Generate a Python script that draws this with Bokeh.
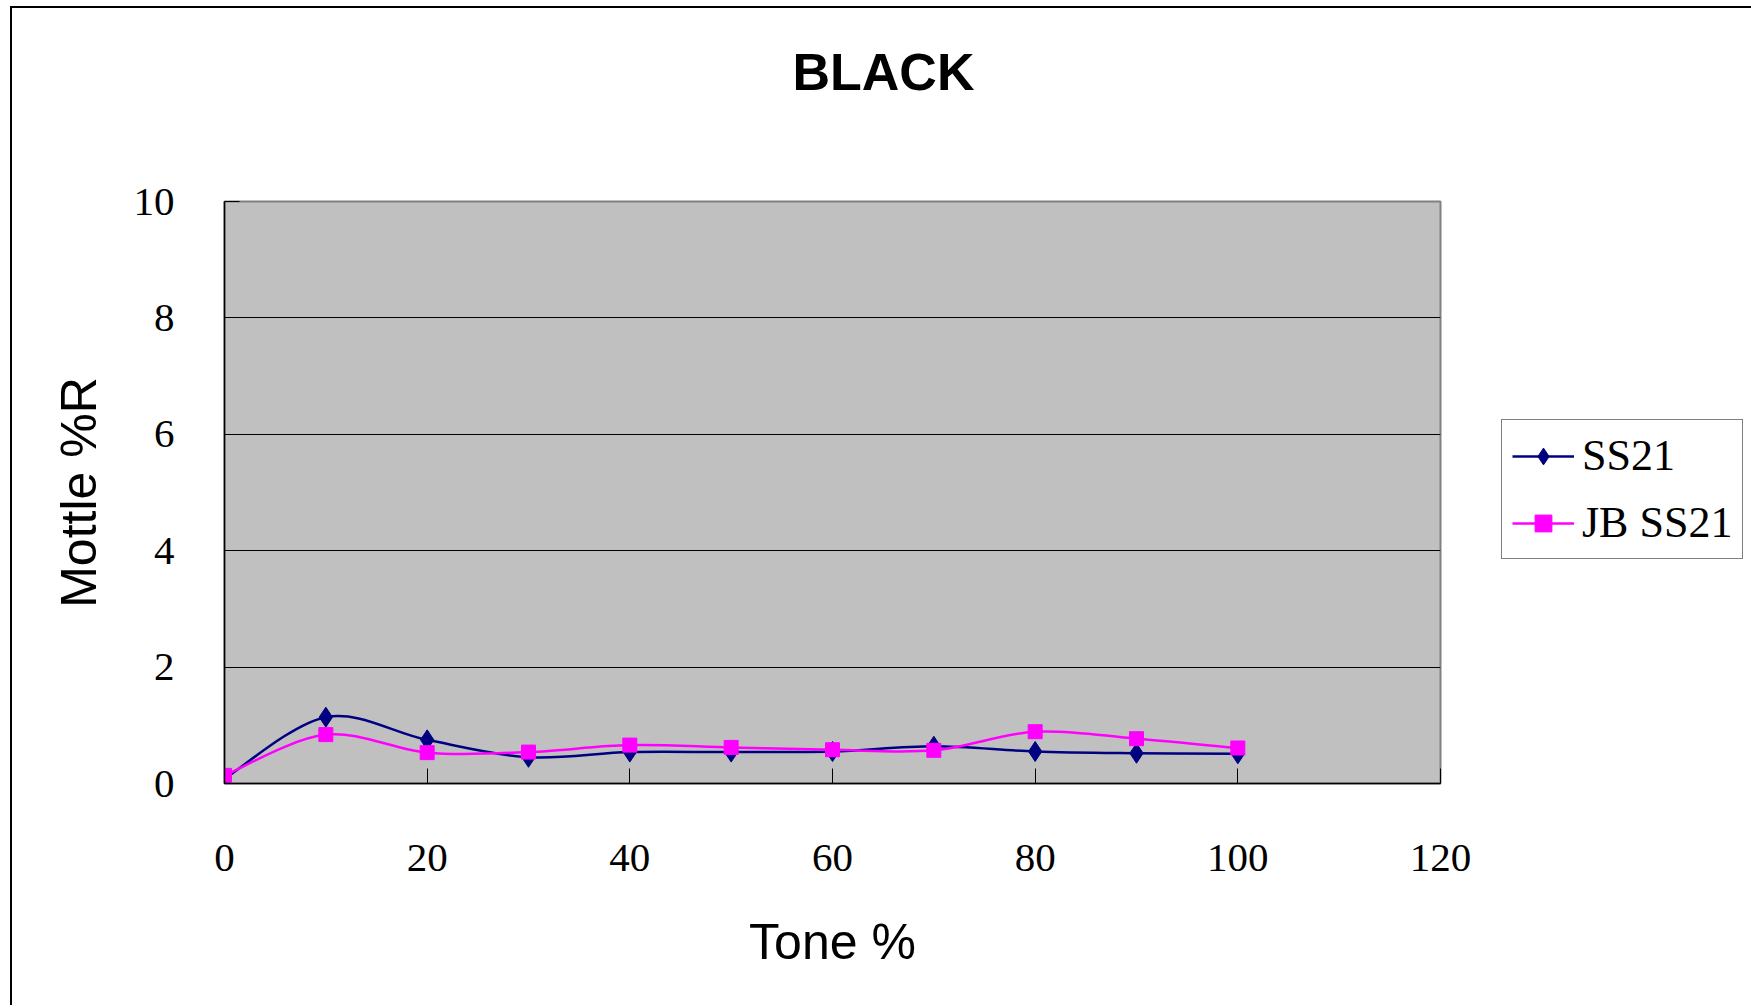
from bokeh.plotting import figure
from bokeh.models import Legend, LegendItem, FixedTicker, Range1d, Title
from bokeh.embed import file_html
from bokeh.resources import INLINE

# ---- data ----
tone = [0, 10, 20, 30, 40, 50, 60, 70, 80, 90, 100]
ss21 = [0.08, 1.14, 0.75, 0.45, 0.54, 0.54, 0.55, 0.64, 0.55, 0.52, 0.51]
jb_ss21 = [0.14, 0.84, 0.53, 0.54, 0.66, 0.62, 0.58, 0.57, 0.89, 0.77, 0.61]
x_ticks = [0, 20, 40, 60, 80, 100, 120]
y_ticks = [0, 2, 4, 6, 8, 10]
series_names = ["SS21", "JB SS21"]
title_text = "BLACK"
x_title = "Tone %"
y_title = "Mottle %R"


def smooth_segments(xs, ys):
    """Catmull-Rom style bezier control points (Excel 'smoothed line')."""
    n = len(xs)
    d = dict(x0=[], y0=[], x1=[], y1=[], cx0=[], cy0=[], cx1=[], cy1=[])
    for i in range(n - 1):
        a = i - 1 if i > 0 else i
        b = i + 2 if i + 2 < n else i + 1
        d["x0"].append(xs[i]); d["y0"].append(ys[i])
        d["x1"].append(xs[i + 1]); d["y1"].append(ys[i + 1])
        d["cx0"].append(xs[i] + (xs[i + 1] - xs[a]) / 6.0)
        d["cy0"].append(ys[i] + (ys[i + 1] - ys[a]) / 6.0)
        d["cx1"].append(xs[i + 1] - (xs[b] - xs[i]) / 6.0)
        d["cy1"].append(ys[i + 1] - (ys[b] - ys[i]) / 6.0)
    return d


p = figure(
    frame_width=1216, frame_height=582,
    min_border_left=212, min_border_right=300, min_border_top=193, min_border_bottom=222,
    x_range=Range1d(0, 120), y_range=Range1d(0, 10),
    output_backend="svg", toolbar_location=None,
    background_fill_color="#C0C0C0", border_fill_color="white",
)
p.styles = {"margin-left": "10px", "margin-top": "6px",
            "border-left": "2px solid black", "border-top": "2px solid black"}

# spacer between frame and title, then the title itself
spacer = Title(text=" ", text_font_size="10px", standoff=88)
p.add_layout(spacer, "above")
main_title = Title(text=title_text, align="left", offset=568, standoff=0,
                   text_font="Liberation Sans", text_font_size="52px",
                   text_font_style="bold", text_color="black")
p.add_layout(main_title, "above")

p.outline_line_color = "#808080"
p.outline_line_width = 2
p.xgrid.visible = False
p.ygrid.grid_line_color = "black"
p.ygrid.grid_line_width = 1
p.ygrid.ticker = FixedTicker(ticks=y_ticks)

for ax in (p.xaxis[0], p.yaxis[0]):
    ax.axis_line_color = "black"
    ax.axis_line_width = 1.5
    ax.major_tick_line_color = "black"
    ax.major_tick_in = 15
    ax.major_tick_out = 0
    ax.minor_tick_line_color = None
    ax.major_label_text_font = "Liberation Serif"
    ax.major_label_text_font_size = "41px"
    ax.major_label_text_color = "black"
    ax.axis_label_text_font = "Liberation Sans"
    ax.axis_label_text_font_size = "50px"
    ax.axis_label_text_font_style = "normal"
    ax.axis_label_text_color = "black"

p.xaxis.ticker = FixedTicker(ticks=x_ticks)
p.yaxis.ticker = FixedTicker(ticks=y_ticks)
p.xaxis.axis_label = x_title
p.yaxis.axis_label = y_title
p.xaxis.major_label_standoff = 61
p.xaxis.axis_label_standoff = 40
p.yaxis.major_label_standoff = 50
p.yaxis.axis_label_standoff = 24

# series 1
s1 = smooth_segments(tone, ss21)
l1 = p.bezier(x0="x0", y0="y0", x1="x1", y1="y1", cx0="cx0", cy0="cy0", cx1="cx1", cy1="cy1",
              source=s1, line_color="#000080", line_width=2.5)
m1 = p.scatter(tone, ss21, marker="diamond", size=20, fill_color="#000080", line_color="#000080")

# series 2
s2 = smooth_segments(tone, jb_ss21)
l2 = p.bezier(x0="x0", y0="y0", x1="x1", y1="y1", cx0="cx0", cy0="cy0", cx1="cx1", cy1="cy1",
              source=s2, line_color="#FF00FF", line_width=2.5)
m2 = p.scatter(tone, jb_ss21, marker="square", size=14, fill_color="#FF00FF", line_color="#FF00FF")

legend = Legend(
    items=[LegendItem(label=series_names[0], renderers=[l1, m1]),
           LegendItem(label=series_names[1], renderers=[l2, m2])],
    location=(61, 224),
    label_text_font="Liberation Serif", label_text_font_size="44px",
    label_text_color="black",
    glyph_width=62, glyph_height=42, label_height=34,
    spacing=16, padding=10, margin=0, label_standoff=8,
    border_line_color="black", border_line_width=1.5,
    background_fill_color="white", background_fill_alpha=1,
)
p.add_layout(legend, "right")

open("out.html", "w").write(file_html(p, INLINE))
